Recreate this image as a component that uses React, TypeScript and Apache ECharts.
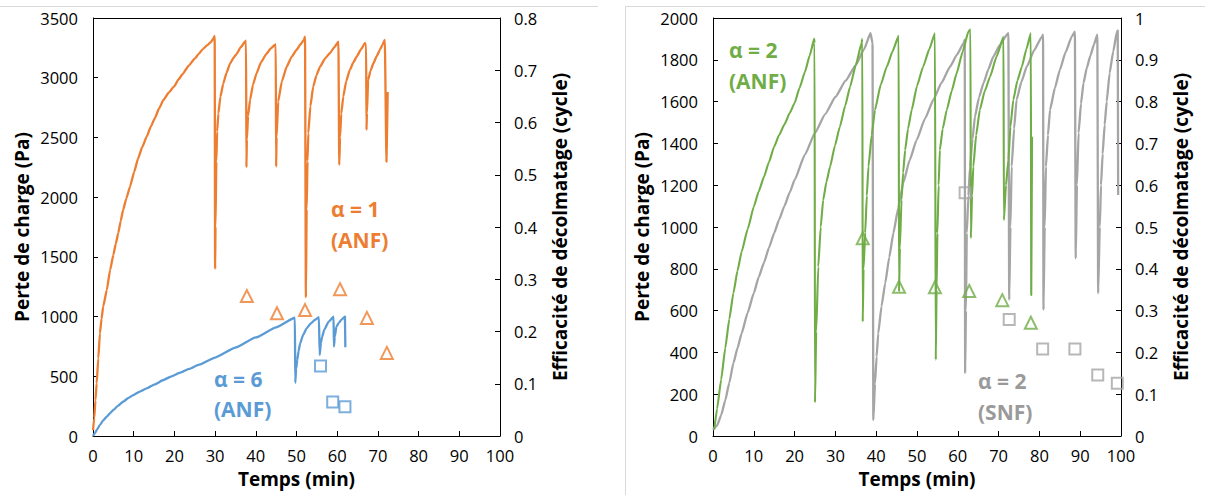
import React, { useEffect, useRef } from "react";
import * as echarts from "echarts";

// ---- Data (time in min, pressure drop in Pa, efficiency in cycles) ----
const xTicks = [0, 10, 20, 30, 40, 50, 60, 70, 80, 90, 100];

// Left chart: alpha = 1 (ANF), orange
const alpha1ANF: number[][] = [
  [0, 50], [0.3, 150], [0.6, 300], [0.9, 441], [1.3, 650], [1.7, 860], [2.1, 980], [2.5, 1083], [3.4, 1223],
  [4.2, 1390], [5, 1516], [5.6, 1610], [6.2, 1698], [6.8, 1800], [7.4, 1893], [8.2, 1990], [9.1, 2088], [10.1, 2210], [11.1, 2326], [12.1, 2420], [13.2, 2507],
  [14.2, 2590], [15.2, 2661], [16.2, 2740], [17.3, 2814], [18.6, 2875], [20, 2930], [21, 2985], [22, 3030], [23.5, 3100], [25, 3160], [26, 3200], [27, 3240], [28, 3270], [29, 3300],
  [29.6, 3330], [29.9, 3350], [30.0, 1400], [30.1, 1750], [30.3, 2300], [30.5, 2550], [30.8, 2700], [31.3, 2840], [32, 2950], [32.8, 3040],
  [33.7, 3120], [34.5, 3165], [35.3, 3200], [36.3, 3255], [37.3, 3300], [37.6, 3310], [37.7, 2250], [37.8, 2480], [38.1, 2680], [38.6, 2814], [39.3, 2940],
  [40.2, 3038], [41.3, 3130], [42.6, 3200], [43.7, 3245], [44.7, 3275], [44.9, 3280], [45.0, 2255], [45.1, 2500], [45.5, 2800], [46.4, 2970],
  [47.6, 3093], [48.8, 3175], [50, 3233], [51, 3280], [51.8, 3317], [52.1, 3344], [52.3, 1160], [52.5, 1900], [52.7, 2300], [52.9, 2535], [53.4, 2760],
  [54.1, 2925], [54.9, 3020], [55.8, 3093], [57, 3160], [58.2, 3205], [59.3, 3255], [60.3, 3302], [60.5, 2270], [60.7, 2500], [61.0, 2700], [61.5, 2842], [62.2, 2970],
  [63.1, 3065], [64.0, 3130], [64.8, 3177], [65.8, 3235], [66.8, 3289], [67.1, 3280], [67.2, 2563], [67.3, 2700], [67.6, 2982], [68.2, 3060], [68.9, 3121],
  [69.7, 3180], [70.5, 3233], [71.1, 3275], [71.7, 3317], [72.1, 2297], [72.4, 2880],
];
const alpha1Eff: number[][] = [
  [37.8, 0.268], [45.2, 0.235], [52.1, 0.241], [60.7, 0.281], [67.3, 0.226], [72.2, 0.159],
];

// Left chart: alpha = 6 (ANF), blue
const alpha6ANF: number[][] = [
  [0, 0], [0.5, 25], [1, 55], [1.7, 92], [2.5, 130], [3.4, 162], [4.2, 192], [5, 218], [6.2, 255], [7.4, 287], [8.6, 316], [9.9, 343],
  [11.5, 372], [13.2, 399], [15.2, 433], [17.3, 469], [19.3, 500], [21.4, 530], [23.6, 562], [25.9, 595], [30, 657], [35, 740], [40, 825], [45, 910],
  [49.6, 990], [49.7, 446], [49.9, 560], [50.2, 640], [50.5, 710], [50.9, 776], [51.6, 845], [52.5, 902], [53.5, 942], [54.5, 972], [55.5, 995],
  [55.7, 678], [56.0, 780], [56.3, 830], [56.8, 888], [57.9, 957], [59.1, 999], [59.2, 748], [59.4, 830], [59.8, 915], [60.4, 948],
  [61.0, 972], [61.9, 1000], [62.0, 743],
];
const alpha6Eff: number[][] = [
  [55.9, 0.134], [58.9, 0.065], [61.9, 0.056],
];

// Right chart: alpha = 2 (ANF), green
const alpha2ANF: number[][] = [
  [0.3, 30], [1, 130], [2, 270], [3, 420], [4, 560], [5, 684], [6, 790], [7, 880], [8.5, 990], [10, 1097], [11.2, 1170], [12.5, 1240], [13.7, 1310], [15, 1385],
  [16.2, 1440], [17.5, 1490], [18.8, 1545], [20, 1593], [21.2, 1665], [22.5, 1740], [23.7, 1820], [24.8, 1900], [24.9, 1880], [25.0, 160], [25.3, 500],
  [25.8, 810], [26.4, 1000], [27.0, 1129], [27.8, 1215], [28.7, 1289], [29.9, 1390], [31.1, 1480], [32.4, 1580], [33.6, 1671], [35.0, 1775], [36.4, 1879], [36.6, 1900],
  [36.7, 547], [36.9, 800], [37.3, 971], [37.7, 1150], [38.1, 1289], [38.9, 1440], [39.7, 1560], [41.1, 1680], [42.6, 1767], [44.0, 1840], [45.4, 1910],
  [45.5, 1915], [45.6, 690], [45.8, 900], [46.2, 1129], [46.6, 1260], [47.1, 1368], [47.8, 1470], [48.7, 1560], [50.0, 1675], [51.5, 1767], [53.0, 1850],
  [54.4, 1927], [54.6, 364], [54.8, 700], [55.0, 971], [55.3, 1200], [55.6, 1368], [56.3, 1470], [57.3, 1560], [58.5, 1650], [59.7, 1735], [61.2, 1840],
  [62.6, 1935], [63.1, 1945], [63.2, 947], [63.5, 1150], [63.8, 1289], [64.5, 1440], [65.4, 1560], [66.6, 1650], [67.9, 1719], [69.5, 1815], [71.2, 1910],
  [71.3, 1033], [71.8, 1200], [72.4, 1320], [72.9, 1480], [73.6, 1608], [74.6, 1700], [75.7, 1767], [76.8, 1850], [77.9, 1927], [78.0, 675],
  [78.1, 675], [78.2, 1432],
];
const alpha2ANFEff: number[][] = [
  [36.7, 0.473], [45.6, 0.357], [54.4, 0.356], [62.8, 0.347], [70.9, 0.325], [77.9, 0.271],
];

// Right chart: alpha = 2 (SNF), grey
const alpha2SNF: number[][] = [
  [0, 30], [1, 50], [2, 100], [3, 170], [4, 255], [5, 349], [6, 420], [7, 490], [8.5, 590], [10, 684], [11.2, 760], [12.5, 830], [13.7, 900],
  [15, 971], [16.2, 1035], [17.5, 1100], [18.8, 1165], [20, 1225], [22.5, 1345], [25, 1450], [27.5, 1540], [30, 1622], [32.5, 1700], [35, 1775], [37, 1850], [38.6, 1927],
  [39.1, 1879], [39.3, 77], [39.7, 250], [40.1, 380], [40.5, 491], [41.3, 620], [42.2, 730], [43.2, 855], [44.2, 970], [45.4, 1090], [46.6, 1209],
  [48.2, 1320], [49.9, 1416], [52.0, 1520], [54.0, 1608], [56.0, 1690], [58.1, 1767], [59.8, 1825], [61.4, 1879], [61.7, 1895], [61.8, 301], [62.0, 600],
  [62.2, 971], [62.6, 1150], [63.0, 1289], [63.6, 1420], [64.2, 1528], [65.2, 1620], [66.3, 1688], [67.5, 1755], [68.7, 1815], [70.3, 1870], [72.0, 1919], [72.4, 1927],
  [72.6, 651], [72.9, 1000], [73.2, 1289], [73.8, 1470], [74.4, 1608], [75.6, 1695], [76.9, 1767], [78.7, 1845], [80.6, 1910], [80.9, 1920],
  [81.0, 603], [81.3, 1000], [81.6, 1289], [82.1, 1440], [82.6, 1560], [83.8, 1665], [85.0, 1751], [86.4, 1835], [87.9, 1910], [88.7, 1935],
  [88.9, 850], [89.2, 1200], [89.6, 1450], [90.2, 1590], [90.8, 1688], [91.6, 1760], [92.5, 1820], [93.4, 1875], [94.2, 1920], [94.4, 683],
  [94.8, 1000], [95.1, 1200], [95.5, 1350], [96.0, 1490], [96.5, 1600], [97.2, 1735], [98.1, 1840], [99.0, 1935], [99.2, 1940], [99.3, 1153],
];
const alpha2SNFEff: number[][] = [
  [61.8, 0.582], [72.6, 0.279], [80.8, 0.208], [88.7, 0.208], [94.3, 0.146], [99.1, 0.126],
];

const ORANGE = "#ED7D31";
const BLUE = "#5B9BD5";
const GREEN = "#70AD47";
const GREY = "#A5A5A5";
const FONT = "'Open Sans', 'Noto Sans', sans-serif";

export default function App() {
  const ref = useRef<HTMLDivElement>(null);

  useEffect(() => {
    if (!ref.current) return;
    const chart = echarts.init(ref.current, undefined, { renderer: "svg" });

    const axisLine = { show: true, onZero: false, lineStyle: { color: "#000", width: 1 } };
    const axisTick = { show: true, inside: true, length: 5, lineStyle: { color: "#000" } };
    const label = { color: "#000", fontSize: 16.5, fontFamily: FONT };
    const nameStyle = { color: "#000", fontSize: 19, fontWeight: "bold" as const, fontFamily: FONT };
    const plain = (v: number) => String(Math.round(v * 1000) / 1000);

    const xAxis = (gridIndex: number) => ({
      type: "value" as const,
      gridIndex,
      min: xTicks[0],
      max: xTicks[xTicks.length - 1],
      interval: 10,
      axisLine,
      axisTick,
      splitLine: { show: false },
      axisLabel: { ...label, margin: 11, formatter: plain },
      name: "Temps (min)",
      nameLocation: "middle" as const,
      nameGap: 33,
      nameTextStyle: nameStyle,
    });

    const yLeft = (gridIndex: number, max: number, interval: number) => ({
      type: "value" as const,
      gridIndex,
      position: "left" as const,
      min: 0,
      max,
      interval,
      axisLine,
      axisTick,
      splitLine: { show: false },
      axisLabel: { ...label, margin: 15, formatter: plain },
      name: "Perte de charge (Pa)",
      nameLocation: "middle" as const,
      nameGap: 62,
      nameRotate: 90,
      nameTextStyle: nameStyle,
    });

    const yRight = (gridIndex: number, max: number) => ({
      type: "value" as const,
      gridIndex,
      position: "right" as const,
      min: 0,
      max,
      interval: 0.1,
      axisLine,
      axisTick,
      splitLine: { show: false },
      axisLabel: { ...label, margin: 14, formatter: plain },
      name: "Efficacité de décolmatage (cycle)",
      nameLocation: "middle" as const,
      nameGap: 50,
      nameRotate: 90,
      nameTextStyle: nameStyle,
    });

    const line = (data: number[][], color: string, xi: number, yi: number, width = 2.3) => ({
      type: "line" as const,
      data,
      xAxisIndex: xi,
      yAxisIndex: yi,
      showSymbol: false,
      symbol: "none",
      smooth: 0.15,
      smoothMonotone: "x",
      lineStyle: { color, width, join: "round" },
      itemStyle: { color },
      silent: true,
    });

    const scatter = (data: number[][], color: string, symbol: string, size: number, xi: number, yi: number) => ({
      type: "scatter" as const,
      data,
      xAxisIndex: xi,
      yAxisIndex: yi,
      symbol,
      symbolSize: size,
      itemStyle: { color: "rgba(255,255,255,0)", borderColor: color, borderWidth: 2 },
      z: 5,
      silent: true,
    });

    const annot = (x: number, y: number, text: string, color: string) => ({
      type: "text" as const,
      x,
      y,
      style: { text, fill: color, font: `bold 21px ${FONT}`, textAlign: "left", textVerticalAlign: "middle" },
      z: 10,
    });

    const rule = (x1: number, y1: number, x2: number, y2: number, stroke: string) => ({
      type: "line" as const,
      shape: { x1, y1, x2, y2 },
      style: { stroke, lineWidth: 1 },
      silent: true,
      z: 20,
    });

    chart.setOption({
      animation: false,
      backgroundColor: "#fff",
      grid: [
        { left: 93, top: 18, width: 407, height: 418 },
        { left: 713, top: 18, width: 408, height: 418 },
      ],
      xAxis: [xAxis(0), xAxis(1)],
      yAxis: [yLeft(0, 3500, 500), yRight(0, 0.8), yLeft(1, 2000, 200), yRight(1, 1)],
      series: [
        line(alpha6ANF, BLUE, 0, 0),
        line(alpha1ANF, ORANGE, 0, 0),
        scatter(alpha1Eff, ORANGE, "triangle", 12, 0, 1),
        scatter(alpha6Eff, BLUE, "rect", 11, 0, 1),
        line(alpha2SNF, GREY, 1, 2),
        line(alpha2ANF, GREEN, 1, 2, 2.1),
        scatter(alpha2ANFEff, GREEN, "triangle", 12, 1, 3),
        scatter(alpha2SNFEff, GREY, "rect", 11, 1, 3),
      ],
      graphic: [
        rule(0, 6.5, 598, 6.5, "#d9d9d9"),
        rule(625, 6.5, 1205, 6.5, "#d9d9d9"),
        rule(625.5, 6, 625.5, 495, "#d9d9d9"),
        // top edges of the two plot frames
        rule(93, 18.5, 500.5, 18.5, "#000"),
        rule(713, 18.5, 1121.5, 18.5, "#000"),
        annot(331, 209, "α = 1", ORANGE),
        annot(331, 240, "(ANF)", ORANGE),
        annot(214, 379, "α = 6", BLUE),
        annot(214, 409, "(ANF)", BLUE),
        annot(729, 50, "α = 2", GREEN),
        annot(729, 81, "(ANF)", GREEN),
        annot(978, 381, "α = 2", "#9a9a9a"),
        annot(978, 412, "(SNF)", "#9a9a9a"),
      ],
    });

    return () => chart.dispose();
  }, []);

  return (
    <div
      ref={ref}
      style={{ position: "fixed", left: 0, top: 0, width: 1205, height: 495, background: "#fff" }}
    />
  );
}
